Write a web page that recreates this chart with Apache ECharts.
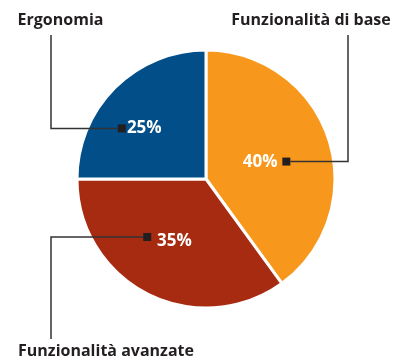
<!DOCTYPE html>
<html>
<head>
<meta charset="utf-8">
<script src="https://cdn.jsdelivr.net/npm/echarts@6/dist/echarts.min.js"></script>
<style>
  html, body { margin: 0; padding: 0; background: #ffffff; }
  #chart { width: 404px; height: 360px; }
</style>
</head>
<body>
<div id="chart"></div>
<script>
// Survey shares by feature group
const categories = ['Funzionalità di base', 'Funzionalità avanzate', 'Ergonomia'];
const shares = [40, 35, 25];
const sliceColors = ['#F7981D', '#A72B11', '#014E88'];

// Pie geometry
const CX = 206, CY = 179, R = 129;
const FONT = '"Open Sans", "Noto Sans", sans-serif';

// Percent label nudges from the default mid-radius anchor
const labelNudge = [[-10, 2.5], [-1, 0.5], [-14, -5]];
// Digits sit slightly high in the em box; drop the text a touch
const textDrop = 1.5;
// Horizontal distance from percent label centre to its square marker
const markerGap = [29, -28.5, -24.5];
// Leader lines: vertical run x and where it ends
const leaderX = [348, 51, 51];
const leaderEndY = [35, 339, 35];
// Category captions
const captionPos = [[311, 20], [106, 351], [60.5, 20]];

const total = shares.reduce((a, b) => a + b, 0);
let acc = 0;
const midAngles = shares.map(v => {
  const mid = (acc + v / 2) / total * 2 * Math.PI;
  acc += v;
  return mid;
});

const graphics = [];
shares.forEach((v, i) => {
  const rMid = R / 2;
  const ax = CX + rMid * Math.sin(midAngles[i]) + labelNudge[i][0];
  const ay = CY - rMid * Math.cos(midAngles[i]) + labelNudge[i][1];
  const mx = ax + markerGap[i];
  const side = Math.sign(markerGap[i]);
  graphics.push({
    type: 'polyline', z: 10,
    shape: { points: [[mx + side * 4, ay], [leaderX[i], ay], [leaderX[i], leaderEndY[i]]] },
    style: { stroke: '#333333', lineWidth: 1.5, fill: null }
  });
  graphics.push({
    type: 'rect', z: 11,
    shape: { x: mx - 4, y: ay - 4, width: 8, height: 8 },
    style: { fill: '#231F20' }
  });
  graphics.push({
    type: 'text', z: 11,
    x: captionPos[i][0], y: captionPos[i][1],
    style: {
      text: categories[i], fill: '#231F20',
      font: 'bold 16px ' + FONT, align: 'center', verticalAlign: 'middle'
    }
  });
});

const chart = echarts.init(document.getElementById('chart'), null, { renderer: 'canvas' });
chart.setOption({
  animation: false,
  backgroundColor: '#ffffff',
  series: [{
    type: 'pie',
    center: [CX, CY],
    radius: [0, R],
    startAngle: 90,
    clockwise: true,
    avoidLabelOverlap: false,
    silent: true,
    itemStyle: { borderColor: '#ffffff', borderWidth: 3 },
    label: {
      show: true,
      position: 'inside',
      formatter: '{c}%',
      color: '#ffffff',
      fontFamily: FONT,
      fontWeight: 'bold',
      fontSize: 17
    },
    labelLine: { show: false },
    labelLayout: p => ({
      dx: labelNudge[p.dataIndex][0],
      dy: labelNudge[p.dataIndex][1] + textDrop
    }),
    data: categories.map((name, i) => ({
      name, value: shares[i], itemStyle: { color: sliceColors[i] }
    }))
  }],
  graphic: graphics
});
</script>
</body>
</html>
